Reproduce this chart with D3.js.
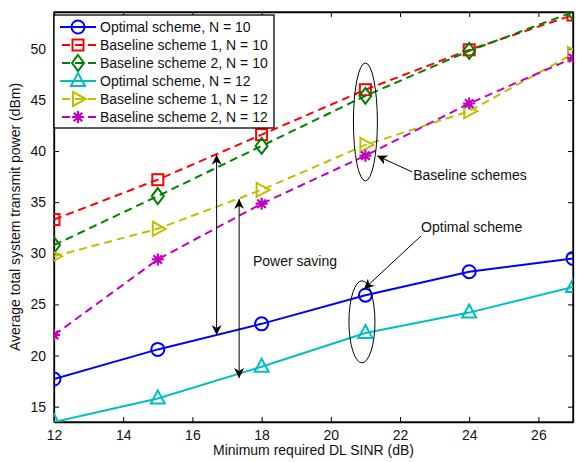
<!DOCTYPE html>
<html>
  <head>
    <meta charset="utf-8" />
    <title>Power vs SINR</title>
    <style>
      body { margin: 0; background: #fff; }
      text { font-family: "Liberation Sans", Arial, sans-serif; }
    </style>
  </head>
  <body>
  <div id="container"></div>
  <script src="https://cdn.jsdelivr.net/npm/d3@7/dist/d3.min.js"></script>
  <script type="text/javascript">

    // x values: minimum required DL SINR (dB)
    var sinr = [12, 15, 18, 21, 24, 27];
    var xTicks = [12, 14, 16, 18, 20, 22, 24, 26];
    var yTicks = [15, 20, 25, 30, 35, 40, 45, 50];

    // series values (dBm)
    var optN10  = [17.7, 20.6, 23.1, 25.9, 28.2, 29.5];
    var base1N10 = [33.3, 37.2, 41.6, 46.0, 49.9, 53.3];
    var base2N10 = [30.8, 35.6, 40.5, 45.4, 49.8, 53.6];
    var optN12  = [13.5, 15.8, 18.9, 22.2, 24.2, 26.7];
    var base1N12 = [29.7, 32.4, 36.2, 40.6, 43.9, 49.5];
    var base2N12 = [22.0, 29.4, 34.85, 39.55, 44.65, 49.1];

    var series = [
      {name: 'Optimal scheme, N = 10', values: optN10, color: '#0000ff', dash: null, marker: 'circle'},
      {name: 'Baseline scheme 1, N = 10', values: base1N10, color: '#ff0000', dash: '8,5', marker: 'square'},
      {name: 'Baseline scheme 2, N = 10', values: base2N10, color: '#008000', dash: '8,5', marker: 'diamond'},
      {name: 'Optimal scheme, N = 12', values: optN12, color: '#00bfbf', dash: null, marker: 'triangle'},
      {name: 'Baseline scheme 1, N = 12', values: base1N12, color: '#bfbf00', dash: '8,5', marker: 'right'},
      {name: 'Baseline scheme 2, N = 12', values: base2N12, color: '#bf00bf', dash: '8,5', marker: 'star'}
    ];

    var width = 584, height = 462;
    // plot box (window.top is reserved, so use other names)
    var pLeft = 54, pRight = 573, pTop = 12, pBottom = 422;
    var fs = 14;

    var svg = d3.select('#container').append('svg')
      .attr('width', width).attr('height', height);

    var x = d3.scaleLinear().domain([12, 27]).range([pLeft, pRight]);
    var y = d3.scaleLinear().domain([13.5, 53.6]).range([pBottom, pTop]);

    // clip so markers on the edge get cut like in matlab
    svg.append('clipPath').attr('id', 'clip').append('rect')
      .attr('x', pLeft).attr('y', pTop).attr('width', pRight - pLeft).attr('height', pBottom - pTop);

    // axes with inward ticks on all four sides
    var tl = 5;
    svg.append('g').attr('transform', 'translate(0,' + pBottom + ')')
      .call(d3.axisBottom(x).tickValues(xTicks).tickSizeInner(-tl).tickSizeOuter(0).tickPadding(8));
    svg.append('g').attr('transform', 'translate(0,' + pTop + ')')
      .call(d3.axisTop(x).tickValues(xTicks).tickSizeInner(-tl).tickSizeOuter(0).tickFormat(''));
    svg.append('g').attr('transform', 'translate(' + pLeft + ',0)')
      .call(d3.axisLeft(y).tickValues(yTicks).tickSizeInner(-tl).tickSizeOuter(0).tickPadding(8));
    svg.append('g').attr('transform', 'translate(' + pRight + ',0)')
      .call(d3.axisRight(y).tickValues(yTicks).tickSizeInner(-tl).tickSizeOuter(0).tickFormat(''));
    svg.selectAll('.domain').attr('stroke', '#000').attr('stroke-width', 1.3);
    svg.selectAll('.tick line').attr('stroke', '#000');
    svg.selectAll('.tick text').attr('font-size', fs).attr('fill', '#111')
      .style('font-family', '"Liberation Sans", Arial, sans-serif');

    svg.append('rect').attr('x', pLeft).attr('y', pTop)
      .attr('width', pRight - pLeft).attr('height', pBottom - pTop)
      .attr('fill', 'none').attr('stroke', '#000').attr('stroke-width', 1.3);

    // axis labels
    svg.append('text').attr('x', (pLeft + pRight) / 2).attr('y', 455)
      .attr('text-anchor', 'middle').attr('font-size', fs).attr('fill', '#111')
      .text('Minimum required DL SINR (dB)');
    svg.append('text').attr('transform', 'translate(20,' + ((pTop + pBottom) / 2) + ') rotate(-90)')
      .attr('text-anchor', 'middle').attr('font-size', fs).attr('fill', '#111')
      .text('Average total system transmit power (dBm)');

    var sym = {
      circle: function(g, c){ g.append('circle').attr('r', 6.5).attr('fill', 'none').attr('stroke', c).attr('stroke-width', 2); },
      square: function(g, c){ g.append('rect').attr('x', -5.5).attr('y', -5.5).attr('width', 11).attr('height', 11).attr('fill', 'none').attr('stroke', c).attr('stroke-width', 2); },
      diamond: function(g, c){ g.append('path').attr('d', 'M0,-8L6,0L0,8L-6,0Z').attr('fill', 'none').attr('stroke', c).attr('stroke-width', 2); },
      triangle: function(g, c){ g.append('path').attr('d', 'M0,-8L7,5L-7,5Z').attr('fill', 'none').attr('stroke', c).attr('stroke-width', 2); },
      right: function(g, c){ g.append('path').attr('d', 'M8,0L-5,-7L-5,7Z').attr('fill', 'none').attr('stroke', c).attr('stroke-width', 2); },
      star: function(g, c){
        var d = '';
        for (var k = 0; k < 4; k++) {
          var a = k * Math.PI / 4;
          d += 'M' + (-6 * Math.cos(a)) + ',' + (-6 * Math.sin(a)) + 'L' + (6 * Math.cos(a)) + ',' + (6 * Math.sin(a));
        }
        g.append('path').attr('d', d).attr('stroke', c).attr('stroke-width', 2.2);
      }
    };

    var line = d3.line().x(function(d, i){ return x(sinr[i]); }).y(function(d){ return y(d); });
    var plot = svg.append('g').attr('clip-path', 'url(#clip)');

    series.forEach(function(s){
      plot.append('path').datum(s.values).attr('d', line)
        .attr('fill', 'none').attr('stroke', s.color).attr('stroke-width', 2)
        .attr('stroke-dasharray', s.dash);
      s.values.forEach(function(v, i){
        var g = plot.append('g').attr('transform', 'translate(' + x(sinr[i]) + ',' + y(v) + ')');
        sym[s.marker](g, s.color);
      });
    });

    // annotations, placed in data units
    var defs = svg.append('defs');
    defs.append('marker').attr('id', 'ah').attr('viewBox', '0 -5 10 10')
      .attr('refX', 10).attr('refY', 0).attr('markerWidth', 12).attr('markerHeight', 10)
      .attr('markerUnits', 'userSpaceOnUse').attr('orient', 'auto-start-reverse')
      .append('path').attr('d', 'M0,-5L10,0L0,5L3,0Z').attr('fill', '#000');

    var ann = svg.append('g').attr('fill', 'none').attr('stroke', '#000').attr('stroke-width', 1);
    ann.append('ellipse').attr('cx', x(21.0)).attr('cy', y(42.85)).attr('rx', 12).attr('ry', 59);
    ann.append('ellipse').attr('cx', x(20.9)).attr('cy', y(23.3)).attr('rx', 13).attr('ry', 41);
    function arrow(x1, y1, x2, y2, both){
      var l = ann.append('line').attr('x1', x(x1)).attr('y1', y(y1)).attr('x2', x(x2)).attr('y2', y(y2))
        .attr('marker-end', 'url(#ah)');
      if (both) l.attr('marker-start', 'url(#ah)');
    }
    arrow(22.35, 37.96, 21.34, 39.53, false);
    arrow(22.61, 31.7, 20.96, 26.51, false);
    arrow(16.70, 39.63, 16.70, 22.01, true);
    arrow(17.35, 35.32, 17.35, 17.8, true);

    function note(xv, yv, t){
      svg.append('text').attr('x', x(xv)).attr('y', y(yv)).attr('font-size', fs).attr('fill', '#111').text(t);
    }
    note(22.38, 37.18, 'Baseline schemes');
    note(22.61, 32.1, 'Optimal scheme');
    note(17.75, 28.76, 'Power saving');

    // legend
    var lg = svg.append('g');
    lg.append('rect').attr('x', 54).attr('y', 15).attr('width', 220).attr('height', 113)
      .attr('fill', '#fff').attr('stroke', '#000').attr('stroke-width', 1.3);
    series.forEach(function(s, i){
      var yy = 27 + i * 18;
      lg.append('line').attr('x1', 60).attr('x2', 96).attr('y1', yy).attr('y2', yy)
        .attr('stroke', s.color).attr('stroke-width', 2).attr('stroke-dasharray', s.dash ? '8,5' : null)
        .attr('stroke-dashoffset', s.dash ? -2 : null);
      var g = lg.append('g').attr('transform', 'translate(78,' + yy + ')');
      sym[s.marker](g, s.color);
      lg.append('text').attr('x', 100).attr('y', yy + 5).attr('font-size', fs).attr('fill', '#111').text(s.name);
    });

  </script>
  </body>
</html>
